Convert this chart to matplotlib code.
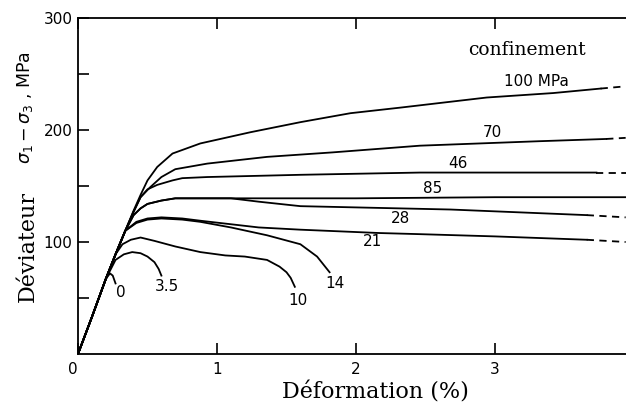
import matplotlib
matplotlib.use('Agg')
import matplotlib.pyplot as plt

# courbes déviateur / déformation (déformation en %, déviateur en MPa)
x_0 = [0, 0.10, 0.20, 0.23, 0.25, 0.27]
y_0 = [0, 33, 67, 72, 70, 63]

x_3_5 = [0, 0.10, 0.20, 0.27, 0.33, 0.39, 0.45, 0.50, 0.55, 0.58, 0.60]
y_3_5 = [0, 33, 67, 84, 89, 91, 90, 87, 82, 76, 70]

x_10 = [0, 0.10, 0.20, 0.27, 0.32, 0.38, 0.45, 0.55, 0.70, 0.88, 1.06, 1.20, 1.36, 1.45, 1.50, 1.53, 1.56]
y_10 = [0, 33, 67, 89, 98, 102, 104, 101, 96, 91, 88, 87, 84, 78, 73, 68, 60]

x_14 = [0, 0.10, 0.20, 0.27, 0.34, 0.42, 0.50, 0.60, 0.75, 0.88, 1.10, 1.36, 1.60, 1.72, 1.81]
y_14 = [0, 33, 67, 89, 110, 117, 120, 121, 120, 118, 113, 106, 98, 87, 73]

x_21 = [0, 0.10, 0.20, 0.27, 0.34, 0.42, 0.50, 0.60, 0.75, 0.88, 1.30, 1.60, 2.17, 2.46, 3.00, 3.66, 3.94]
y_21 = [0, 33, 67, 89, 110, 118, 121, 122, 121, 119, 113, 111, 108, 107, 105, 102, 100]

x_28 = [0, 0.10, 0.20, 0.27, 0.34, 0.40, 0.45, 0.50, 0.60, 0.70, 1.00, 1.10, 1.30, 1.60, 2.32, 2.68, 3.66, 3.94]
y_28 = [0, 33, 67, 89, 110, 124, 130, 134, 137, 139, 139, 139, 136, 132, 130, 129, 124, 122]

x_85 = [0, 0.10, 0.20, 0.27, 0.34, 0.40, 0.45, 0.50, 0.60, 0.70, 1.00, 2.00, 3.00, 3.94]
y_85 = [0, 33, 67, 89, 110, 124, 130, 134, 137, 139, 139, 139, 140, 140]

x_46 = [0, 0.10, 0.20, 0.27, 0.34, 0.40, 0.45, 0.50, 0.57, 0.68, 0.75, 0.93, 1.60, 2.46, 3.73, 3.94]
y_46 = [0, 33, 67, 89, 110, 127, 140, 147, 151, 155, 157, 158, 160, 162, 162, 162]

x_70 = [0, 0.10, 0.20, 0.27, 0.34, 0.40, 0.45, 0.52, 0.60, 0.70, 0.93, 1.36, 1.83, 2.46, 3.32, 3.80, 3.94]
y_70 = [0, 33, 67, 89, 110, 127, 140, 149, 158, 165, 170, 176, 180, 186, 190, 192, 193]

x_100 = [0, 0.10, 0.20, 0.27, 0.34, 0.40, 0.45, 0.50, 0.57, 0.68, 0.88, 1.24, 1.60, 1.96, 2.32, 2.94, 3.42, 3.76, 3.94]
y_100 = [0, 33, 67, 89, 110, 128, 142, 155, 167, 179, 188, 198, 207, 215, 220, 229, 233, 237, 239]

# début de la partie en tirets (None = trait plein jusqu'au bout)
curves = [
    (x_0, y_0, None), (x_3_5, y_3_5, None), (x_10, y_10, None), (x_14, y_14, None),
    (x_21, y_21, 3.66), (x_28, y_28, 3.66), (x_85, y_85, None), (x_46, y_46, 3.73),
    (x_70, y_70, 3.80), (x_100, y_100, 3.76),
]

# étiquettes de confinement
lab_txt = ['100 MPa', '70', '46', '85', '28', '21', '14', '10', '3.5', '0']
lab_x = [3.295, 2.98, 2.73, 2.55, 2.32, 2.12, 1.85, 1.58, 0.64, 0.31]
lab_y = [243, 198, 170.5, 148, 121, 100, 63, 48, 60, 55]

W, H = 626, 403
fig = plt.figure(figsize=(W / 100, H / 100), dpi=100)
ax = fig.add_axes([78 / W, 49 / H, 556 / W, 336 / H])

for xs, ys, d in curves:
    if d is None:
        ax.plot(xs, ys, color='black', lw=1.3)
    else:
        xa = [v for v in xs if v <= d]
        ya = ys[:len(xa)]
        ax.plot(xa, ya, color='black', lw=1.3)
        ax.plot(xs[len(xa) - 1:], ys[len(xa) - 1:], color='black', lw=1.3, dashes=(4, 3))

for t, x, y in zip(lab_txt, lab_x, lab_y):
    ax.text(x, y, t, ha='center', va='center', fontsize=11, family='DejaVu Sans')

ax.text(3.23, 271, 'confinement', ha='center', va='center', fontsize=13.5, family='DejaVu Serif')

ax.set_xlim(0, 4)
ax.set_ylim(0, 300)
ax.set_xticks([0, 1, 2, 3, 4])
ax.set_yticks([100, 200, 300])
ax.set_yticks([50, 150, 250], minor=True)
ax.tick_params(axis='both', which='both', direction='in', length=8, width=1.2,
               labelsize=11, top=True, right=False)
ax.tick_params(axis='x', pad=6)
ax.tick_params(axis='y', pad=4)
ax.get_xticklabels()[0].set_ha('right')
ax.spines['right'].set_visible(False)
for s in ['left', 'bottom', 'top']:
    ax.spines[s].set_linewidth(1.3)

fig.text(375 / W, 1 - 392 / H, 'Déformation (%)', ha='center', va='center',
         fontsize=16, family='DejaVu Serif')
fig.text(28 / W, 1 - 246 / H, 'Déviateur', ha='center', va='center', rotation=90,
         fontsize=16, family='DejaVu Serif')
fig.text(25 / W, 1 - 108 / H, r'$\sigma_1 - \sigma_3$ , MPa', ha='center', va='center',
         rotation=90, fontsize=12.5, family='DejaVu Sans')

fig.savefig('out.png', dpi=100)
